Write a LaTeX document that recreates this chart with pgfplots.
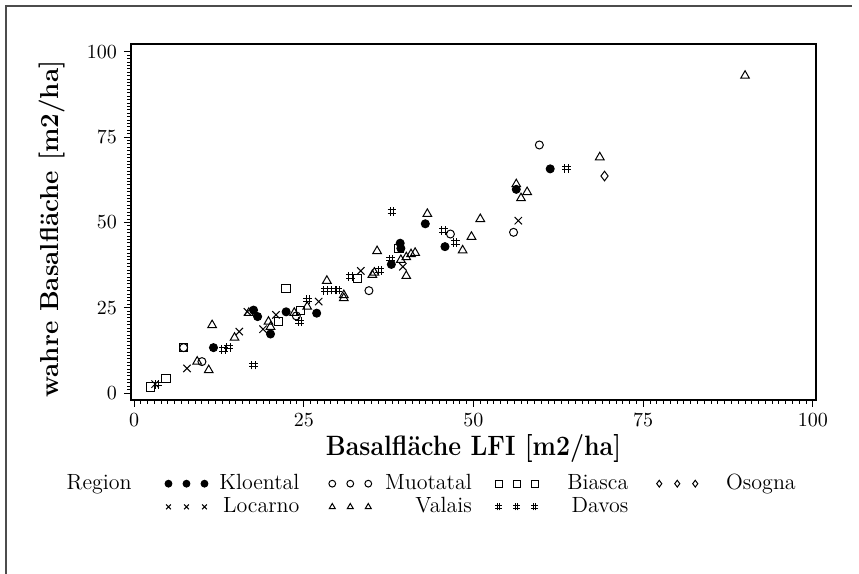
\documentclass[border=0pt]{standalone}
\usepackage{pgfplots}
\pgfplotsset{compat=1.18}
\pgfdeclareplotmark{hash}{%
  \pgfpathmoveto{\pgfqpoint{-.38\pgfplotmarksize}{-\pgfplotmarksize}}%
  \pgfpathlineto{\pgfqpoint{-.38\pgfplotmarksize}{\pgfplotmarksize}}%
  \pgfpathmoveto{\pgfqpoint{.38\pgfplotmarksize}{-\pgfplotmarksize}}%
  \pgfpathlineto{\pgfqpoint{.38\pgfplotmarksize}{\pgfplotmarksize}}%
  \pgfpathmoveto{\pgfqpoint{-\pgfplotmarksize}{-.38\pgfplotmarksize}}%
  \pgfpathlineto{\pgfqpoint{\pgfplotmarksize}{-.38\pgfplotmarksize}}%
  \pgfpathmoveto{\pgfqpoint{-\pgfplotmarksize}{.38\pgfplotmarksize}}%
  \pgfpathlineto{\pgfqpoint{\pgfplotmarksize}{.38\pgfplotmarksize}}%
  \pgfusepathqstroke}
\pgfplotsset{
  regmark/.style={only marks, black, line width=0.5pt,
    legend image code/.code={\draw[##1,mark size=1.7pt] plot[only marks] coordinates {(0pt,0pt) (9pt,0pt) (18pt,0pt)};}},
}
\begin{document}
\begin{tikzpicture}
\path[use as bounding box] (0,0) rectangle (429.5pt,287pt);
\draw[line width=0.6pt, black!70] (3pt,0pt) -- (3pt,284pt) -- (426pt,284pt);
\begin{axis}[
  at={(65.5pt,87pt)}, anchor=south west,
  scale only axis, width=342.5pt, height=178pt,
  xmin=-0.45, xmax=100.45, ymin=-2.05, ymax=102.3,
  xtick={0,25,50,75,100}, ytick={0,25,50,75,100},
  minor tick num=24,
  tick align=outside, tick pos=left,
  major tick length=3.5pt, minor tick length=1.8pt,
  axis line style={line width=0.9pt},
  every tick/.style={black, line width=0.5pt},
  yticklabel style={font=\fontsize{10}{12}\selectfont\bfseries},
  xticklabel style={font=\fontsize{10}{12}\selectfont},
  xlabel={\scalebox{0.89}[1]{\fontsize{14}{16}\selectfont\bfseries Basalfläche LFI [m2/ha]}},
  ylabel={\fontsize{13}{15}\selectfont\bfseries wahre Basalfläche [m2/ha]},
  xlabel style={at={(axis description cs:0.5,-0.135)}, anchor=center},
  ylabel style={at={(axis description cs:-0.115,0.48)}, anchor=center},
  legend columns=5,
  legend cell align=right,
  legend style={draw=none, fill=none, at={(axis description cs:-0.13,-0.19)}, anchor=north west,
    font=\fontsize{11}{11}\selectfont,
    nodes={inner sep=1.2pt},
    /tikz/column 1/.style={column sep=8pt},
    /tikz/column 2/.style={column sep=15.5pt},
    /tikz/column 3/.style={column sep=4.5pt},
    /tikz/column 4/.style={column sep=13.5pt},
    /tikz/column 5/.style={column sep=5.5pt},
    /tikz/column 6/.style={column sep=10.5pt},
    /tikz/column 7/.style={column sep=13.5pt},
    /tikz/column 8/.style={column sep=13pt},
    /tikz/column 9/.style={column sep=13pt},
    row sep=0pt},
]
\addlegendimage{empty legend}\addlegendentry{Region}
% Kloental
\addplot[regmark, mark=*, mark size=2pt] coordinates {
(11.7,13.3) (17.6,24.3) (18.2,22.4) (20.1,17.3) (22.4,23.8) (26.9,23.4)
(37.9,37.7) (39.2,43.9) (39.3,42.4) (42.9,49.6) (45.8,42.9) (56.3,59.7) (61.3,65.7)};
\addlegendentry{Kloental}
% Muotatal
\addplot[regmark, mark=o, mark size=2pt] coordinates {
(7.3,13.3) (10.0,9.2) (23.9,22.6) (34.6,30.0) (46.6,46.6) (55.9,47.1) (59.7,72.7)};
\addlegendentry{Muotatal}
% Biasca
\addplot[regmark, mark=square, mark size=2.1pt] coordinates {
(2.4,1.8) (4.7,4.3) (7.3,13.3) (21.3,20.9) (22.4,30.7) (24.5,24.1) (32.9,33.6) (39.0,42.4)};
\addlegendentry{Biasca}
% Osogna
\addplot[regmark, mark=diamond, mark size=2.4pt] coordinates {(69.3,63.6)};
\addlegendentry{Osogna}
\addlegendimage{empty legend}\addlegendentry{}
% Locarno
\addplot[regmark, mark=x, mark size=2.6pt] coordinates {
(3.1,2.6) (7.8,7.2) (15.5,18.0) (16.7,23.8) (19.0,18.7) (20.9,22.9) (27.2,26.8)
(33.4,35.8) (39.6,37.0) (56.6,50.5)};
\addlegendentry{Locarno}
% Valais
\addplot[regmark, mark=triangle, mark size=2.5pt] coordinates {
(9.3,9.2) (11.0,6.7) (11.5,19.9) (14.8,16.2) (16.9,23.5) (19.8,20.9) (20.1,19.4)
(23.6,23.5) (25.5,25.3) (28.4,32.9) (30.9,28.7) (30.9,27.8) (35.1,34.6) (35.4,35.3)
(35.8,41.6) (39.3,39.0) (40.1,39.8) (40.8,40.7) (41.4,41.1) (40.1,34.3) (43.2,52.5)
(48.4,41.8) (49.7,45.8) (51.0,51.0) (56.3,61.2) (57.0,57.1) (57.9,58.9) (68.6,69.1) (90.0,93.0)};
\addlegendentry{Valais}
% Davos
\addplot[regmark, mark=hash, mark size=2.2pt] coordinates {
(3.4,2.6) (13.2,12.8) (13.9,13.4) (17.6,8.2) (24.4,20.9) (25.6,27.3) (28.2,30.1)
(29.4,30.2) (30.0,30.2) (31.9,34.1) (36.2,35.9) (37.8,39.2) (38.0,53.2) (45.6,47.6)
(47.3,44.1) (63.7,65.9)};
\addlegendentry{Davos}
\end{axis}
\end{tikzpicture}
\end{document}
